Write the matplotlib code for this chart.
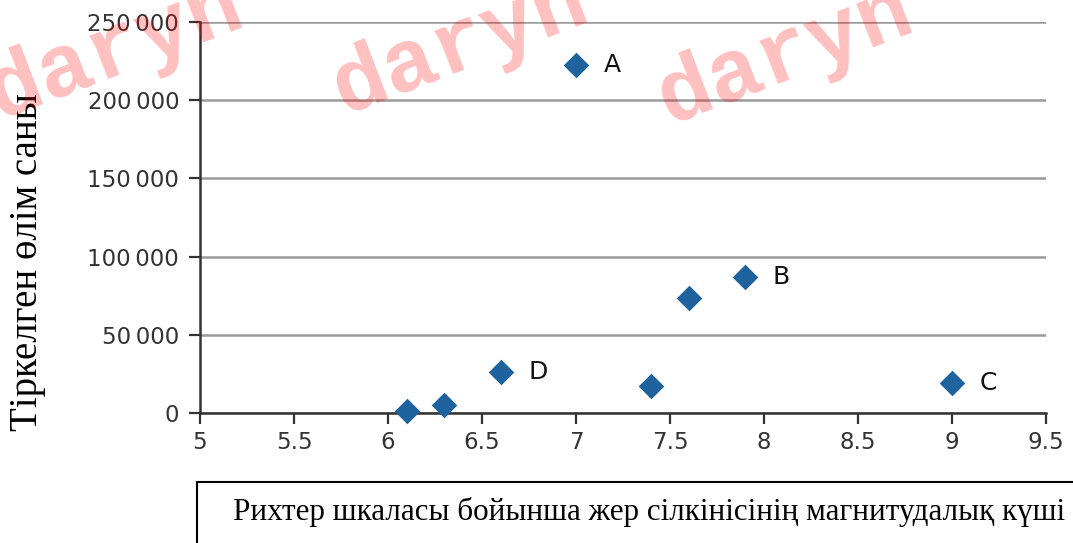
import matplotlib.pyplot as plt
from matplotlib.patches import Rectangle
from matplotlib.ticker import FuncFormatter

# ---------------------------------------------------------
# Data
# ---------------------------------------------------------
magnitude = [6.1, 6.3, 6.6, 7.0, 7.4, 7.6, 7.9, 9.0]
deaths = [1000, 5000, 26000, 222500, 17500, 73500, 87000, 19500]

point_labels = ["D", "A", "B", "C"]
label_x = [6.6, 7.0, 7.9, 9.0]
label_y = [26000, 222500, 87000, 19500]

x_ticks = [5, 5.5, 6, 6.5, 7, 7.5, 8, 8.5, 9, 9.5]
y_ticks = [0, 50000, 100000, 150000, 200000, 250000]

y_label = "Тіркелген өлім саны"
x_label = "Рихтер шкаласы бойынша жер сілкінісінің магнитудалық күші"
watermark = "daryn"

# ---------------------------------------------------------
# Figure
# ---------------------------------------------------------
fig = plt.figure(figsize=(10.73, 5.43), dpi=100)
ax = fig.add_axes([200 / 1073, 1 - 413 / 543, 846 / 1073, 391 / 543])

ax.scatter(magnitude, deaths, marker="D", s=170, color="#1f639e",
           linewidths=0, zorder=3, clip_on=False)

for lab, lx, ly in zip(point_labels, label_x, label_y):
    ax.annotate(lab, (lx, ly), xytext=(20, 0), textcoords="offset points",
                ha="left", va="center", fontsize=18, color="#111111",
                family="DejaVu Sans")

ax.set_xlim(5, 9.5)
ax.set_ylim(0, 250000)
ax.set_xticks(x_ticks)
ax.set_yticks(y_ticks)
ax.xaxis.set_major_formatter(FuncFormatter(lambda v, p: f"{v:g}"))
ax.yaxis.set_major_formatter(
    FuncFormatter(lambda v, p: f"{int(v):,}".replace(",", "\u2009")))

ax.grid(axis="y", color="#9a9a9a", linewidth=1.8)
ax.set_axisbelow(True)
for side in ["top", "right"]:
    ax.spines[side].set_visible(False)
for side in ["left", "bottom"]:
    ax.spines[side].set_color("#333333")
    ax.spines[side].set_linewidth(1.8)

ax.tick_params(direction="out", length=8, width=1.6, color="#333333",
               labelsize=16.5, labelcolor="#333333", pad=5)
ax.tick_params(axis="y", pad=7)

# y label (serif, rotated)
fig.text(28 / 1073, 1 - 262 / 543, y_label, rotation=90, ha="center",
         va="center", fontsize=28, family="Liberation Serif")

# x label inside an open box
fig.add_artist(Rectangle((197 / 1073, -0.05), 0.9, 1 - 482 / 543 + 0.05,
                         transform=fig.transFigure, fill=False,
                         edgecolor="black", linewidth=1.5))
fig.text(649 / 1073, 1 - 512 / 543, x_label, ha="center", va="center",
         fontsize=22.4, family="Liberation Serif")

# watermark
for wx, wy in [(115, 50), (460, 45), (785, 55)]:
    fig.text(wx / 1073, 1 - wy / 543, watermark, rotation=21,
             rotation_mode="anchor", ha="center", va="center", fontsize=64,
             family="Liberation Mono", weight="bold", color="red",
             alpha=0.25, zorder=10)

plt.savefig("out.png", dpi=100)
